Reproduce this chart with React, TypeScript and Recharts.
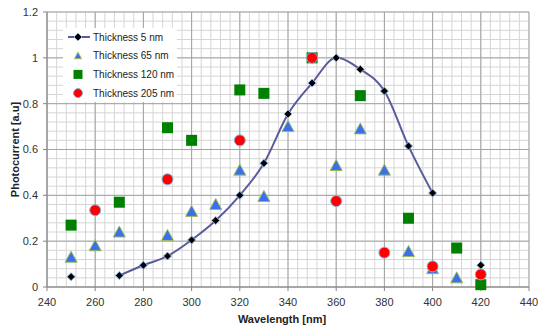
import {
  ComposedChart,
  Line,
  Scatter,
  XAxis,
  YAxis,
  CartesianGrid,
} from "recharts";

// values
const wavelengths = [250, 260, 270, 280, 290, 300, 310, 320, 330, 340, 350, 360, 370, 380, 390, 400, 410, 420];
const thick5 = [0.045, null, 0.05, 0.095, 0.135, 0.205, 0.29, 0.4, 0.54, 0.755, 0.89, 1.0, 0.95, 0.855, 0.615, 0.41, null, 0.095];
const thick65 = [0.13, 0.18, 0.24, null, 0.225, 0.33, 0.36, 0.51, 0.395, 0.7, null, 0.53, 0.69, 0.51, 0.155, 0.08, 0.04, null];
const thick120 = [0.27, null, 0.37, null, 0.695, 0.64, null, 0.86, 0.845, null, 1.0, null, 0.835, null, 0.3, null, 0.17, 0.01];
const thick205 = [null, 0.335, null, null, 0.47, null, null, 0.64, null, null, 1.0, 0.375, null, 0.15, null, 0.09, null, 0.055];

const xTicks = [240, 260, 280, 300, 320, 340, 360, 380, 400, 420, 440];
const yTicks = [0, 0.2, 0.4, 0.6, 0.8, 1, 1.2];
const xMinor = Array.from({ length: 51 }, (_, i) => 240 + i * 4);
const yMinor = Array.from({ length: 31 }, (_, i) => Math.round(i * 4) / 100);

const rows = wavelengths.map((wl, i) => ({
  wl,
  t5: thick5[i],
  t65: thick65[i],
  t120: thick120[i],
  t205: thick205[i],
}));

const FONT = "'Liberation Sans', Arial, sans-serif";
const LINE_COLOR = "#5b5b9c";

const Diamond = (props: any) => {
  const { cx, cy } = props;
  if (cx == null || cy == null || isNaN(cy)) return <g key={props.key} />;
  return (
    <path
      key={props.key}
      d={`M${cx},${cy - 4}L${cx + 4},${cy}L${cx},${cy + 4}L${cx - 4},${cy}Z`}
      fill="#000"
      stroke="#8fb4e0"
      strokeWidth={1}
    />
  );
};

const Triangle = (props: any) => {
  const { cx, cy } = props;
  return (
    <path
      d={`M${cx},${cy - 6}L${cx + 6},${cy + 5}L${cx - 6},${cy + 5}Z`}
      fill="#3a6ff0"
      stroke="#9bbb59"
      strokeWidth={1}
    />
  );
};

const Square = (props: any) => {
  const { cx, cy } = props;
  return <rect x={cx - 5.5} y={cy - 5.5} width={11} height={11} fill="#008000" />;
};

const Circle = (props: any) => {
  const { cx, cy } = props;
  return <circle cx={cx} cy={cy} r={5.5} fill="#ff0000" stroke="#7fb6d8" strokeWidth={1} />;
};

// minor grid positions go through the axis scale when it is available
const minorVertical = ({ xAxis, offset }: any) =>
  xMinor.map((v) =>
    xAxis && typeof xAxis.scale === "function"
      ? xAxis.scale(v)
      : offset.left + ((v - 240) / 200) * offset.width
  );
const minorHorizontal = ({ yAxis, offset }: any) =>
  yMinor.map((v) =>
    yAxis && typeof yAxis.scale === "function"
      ? yAxis.scale(v)
      : offset.top + (1 - v / 1.2) * offset.height
  );

function LegendBox() {
  const items = ["Thickness 5 nm", "Thickness 65 nm", "Thickness 120 nm", "Thickness 205 nm"];
  return (
    <svg
      width={118}
      height={74}
      style={{ position: "absolute", left: 63, top: 28, overflow: "visible" }}
    >
      <rect x={0} y={0} width={114} height={74} fill="#fff" />
      {items.map((label, i) => {
        const y = 9 + i * 18.7;
        const cx = 15;
        return (
          <g key={label}>
            {i === 0 && (
              <>
                <line x1={5} x2={27} y1={y} y2={y} stroke={LINE_COLOR} strokeWidth={2} />
                <Diamond cx={cx} cy={y} />
              </>
            )}
            {i === 1 && (
              <path
                d={`M${cx},${y - 3.5}L${cx + 3.5},${y + 3}L${cx - 3.5},${y + 3}Z`}
                fill="#3a6ff0"
                stroke="#9bbb59"
              />
            )}
            {i === 2 && <rect x={cx - 4.5} y={y - 4.5} width={9} height={9} fill="#008000" />}
            {i === 3 && <circle cx={cx} cy={y} r={4.5} fill="#ff0000" stroke="#7fb6d8" />}
            <text x={30} y={y + 3.5} fontSize={10} fontFamily={FONT} fill="#222">
              {label}
            </text>
          </g>
        );
      })}
    </svg>
  );
}

export default function App() {
  return (
    <div
      style={{
        position: "absolute",
        left: 0,
        top: 0,
        width: 538,
        height: 325,
        background: "#fff",
        fontFamily: FONT,
      }}
    >
      <ComposedChart
        width={538}
        height={325}
        data={rows}
        margin={{ top: 12, right: 9, bottom: 0, left: 0 }}
      >
        <CartesianGrid
          stroke="#d6d6d6"
          verticalCoordinatesGenerator={minorVertical}
          horizontalCoordinatesGenerator={minorHorizontal}
        />
        <CartesianGrid stroke="#a3a3a3" />
        <XAxis
          type="number"
          dataKey="wl"
          domain={[240, 440]}
          ticks={xTicks}
          height={38}
          tickSize={4}
          tickMargin={7}
          stroke="#868686"
          tick={{ fill: "#333", fontSize: 11, fontFamily: FONT }}
          label={{
            value: "Wavelength [nm]",
            position: "insideBottom",
            offset: 2,
            dx: -6,
            style: { fontWeight: "bold", fontSize: 11, fill: "#222", fontFamily: FONT },
          }}
        />
        <YAxis
          type="number"
          domain={[0, 1.2]}
          ticks={yTicks}
          width={47}
          tickSize={4}
          tickMargin={5}
          stroke="#868686"
          tick={{ fill: "#333", fontSize: 11, fontFamily: FONT }}
          label={{
            value: "Photocurrent [a.u]",
            angle: -90,
            position: "insideLeft",
            offset: 15,
            style: { fontWeight: "bold", fontSize: 11, fill: "#222", fontFamily: FONT, textAnchor: "middle" },
          }}
        />
        <Line
          type="monotone"
          dataKey="t5"
          name="Thickness 5 nm"
          stroke={LINE_COLOR}
          strokeWidth={2}
          dot={<Diamond />}
          activeDot={false}
          connectNulls={false}
          isAnimationActive={false}
        />
        <Scatter
          name="Thickness 65 nm"
          data={rows.filter((r) => r.t65 != null)}
          dataKey="t65"
          shape={<Triangle />}
          isAnimationActive={false}
        />
        <Scatter
          name="Thickness 120 nm"
          data={rows.filter((r) => r.t120 != null)}
          dataKey="t120"
          shape={<Square />}
          isAnimationActive={false}
        />
        <Scatter
          name="Thickness 205 nm"
          data={rows.filter((r) => r.t205 != null)}
          dataKey="t205"
          shape={<Circle />}
          isAnimationActive={false}
        />
      </ComposedChart>
      <LegendBox />
    </div>
  );
}
